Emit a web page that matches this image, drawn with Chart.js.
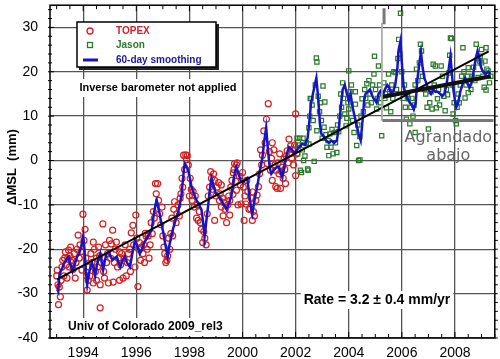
<!DOCTYPE html>
<html>
<head>
<meta charset="utf-8">
<script src="https://cdn.jsdelivr.net/npm/chart.js@4.4.0/dist/chart.umd.min.js"></script>
<style>
    html, body { margin: 0; padding: 0; background: #fff; }
    #chart { display: block; }
</style>
</head>
<body>
<canvas id="chart" width="500" height="359"></canvas>
<script>
// axis ticks
var xTickLabels = [1994, 1996, 1998, 2000, 2002, 2004, 2006, 2008];
var yTickLabels = [-40, -30, -20, -10, 0, 10, 20, 30];

// TOPEX cycles [year, mm]
var topexPoints = [
    [1993.00,-26],[1993.02,-24.7],[1993.05,-28],[1993.07,-32.5],[1993.10,-28.5],[1993.14,-30.7],[1993.17,-27],
    [1993.20,-24],[1993.23,-22.5],[1993.27,-26],[1993.30,-22],[1993.33,-20.6],[1993.36,-23.5],[1993.39,-26.5],
    [1993.42,-22],[1993.45,-20.2],[1993.48,-24],[1993.50,-21.5],[1993.53,-19.5],[1993.56,-23],[1993.59,-22.5],
    [1993.62,-24.5],[1993.66,-21],[1993.70,-26.5],[1993.73,-23],[1993.77,-20],[1993.81,-16.8],[1993.85,-22],
    [1993.88,-19],[1993.92,-20.5],[1993.95,-24.7],[1993.99,-12.1],[1994.03,-18],[1994.07,-15.5],[1994.10,-22],
    [1994.13,-26],[1994.15,-29.2],[1994.19,-27],[1994.22,-24],[1994.25,-26],[1994.29,-21],[1994.33,-23],
    [1994.38,-18.4],[1994.38,-27.6],[1994.42,-20],[1994.46,-25],[1994.50,-22],[1994.50,-27],[1994.54,-24],
    [1994.58,-19.5],[1994.62,-21.5],[1994.64,-28],[1994.64,-33.2],[1994.68,-23],[1994.74,-14.3],[1994.77,-25],
    [1994.80,-26.5],[1994.84,-19],[1994.88,-23],[1994.92,-21],[1994.95,-27.6],[1994.99,-18],[1995.03,-22],
    [1995.06,-18.8],[1995.11,-15.7],[1995.13,-27.4],[1995.17,-23],[1995.21,-20],[1995.25,-18.4],[1995.29,-24],
    [1995.33,-22],[1995.37,-20.6],[1995.37,-27],[1995.41,-23.5],[1995.45,-21],[1995.50,-26.5],[1995.54,-22],
    [1995.58,-19],[1995.62,-26],[1995.66,-23],[1995.70,-21],[1995.75,-20],[1995.78,-25],[1995.81,-16.3],
    [1995.87,-14.6],[1995.90,-19],[1995.95,-24],[1995.98,-12.3],[1996.02,-17.5],[1996.06,-28.4],[1996.09,-20],
    [1996.12,-18.5],[1996.16,-22.5],[1996.20,-19.5],[1996.25,-21],[1996.28,-19],[1996.31,-23],[1996.34,-16.4],
    [1996.37,-17],[1996.41,-20],[1996.45,-17],[1996.48,-22],[1996.52,-19],[1996.56,-14],[1996.60,-16.5],
    [1996.64,-11.5],[1996.68,-13],[1996.72,-5.2],[1996.75,-7.5],[1996.80,-5.2],[1996.84,-9],[1996.88,-12],
    [1996.92,-14.5],[1996.97,-10.5],[1997.00,-17],[1997.04,-19.5],[1997.07,-21],[1997.11,-23],[1997.15,-22.5],
    [1997.18,-21.5],[1997.22,-17.5],[1997.26,-20],[1997.30,-16.5],[1997.34,-13],[1997.37,-17],[1997.41,-11],
    [1997.44,-9.3],[1997.50,-14],[1997.53,-12],[1997.57,-10],[1997.62,-12.5],[1997.65,-8.5],[1997.68,-7.5],
    [1997.72,-4],[1997.75,-6],[1997.78,1.2],[1997.82,-2],[1997.86,1.3],[1997.89,0.2],[1997.92,1.1],
    [1997.96,-1.0],[1998.00,-8],[1998.03,-4],[1998.07,-6.5],[1998.10,-9],[1998.14,-7],[1998.18,-10.5],
    [1998.22,-8],[1998.27,-13],[1998.30,-10],[1998.33,-13.5],[1998.37,-11.5],[1998.41,-14],[1998.45,-15.5],
    [1998.50,-18.5],[1998.54,-16],[1998.58,-17.5],[1998.63,-19],[1998.67,-12],[1998.71,-8],[1998.76,-6],
    [1998.80,-2.5],[1998.83,-4],[1998.87,-6.5],[1998.91,-3],[1998.95,-4.5],[1998.95,-13.5],[1999.00,-8],
    [1999.04,-6],[1999.10,-5],[1999.13,-9],[1999.16,-7.5],[1999.20,-5.5],[1999.20,-10.5],[1999.24,-8.5],
    [1999.27,-12.5],[1999.31,-9.5],[1999.35,-11],[1999.40,-14],[1999.44,-10],[1999.48,-8],[1999.52,-12.3],
    [1999.52,-9],[1999.56,-6],[1999.60,-4.5],[1999.64,-7.6],[1999.65,-2.8],[1999.68,-2],[1999.70,-0.7],
    [1999.74,-4.7],[1999.77,-1],[1999.77,-6.7],[1999.80,-0.5],[1999.83,-10],[1999.88,-3.5],[1999.92,-5.5],
    [1999.95,-9.8],[2000.00,-2.7],[2000.03,-6],[2000.06,-13.5],[2000.09,-8],[2000.12,-9.8],[2000.16,-4.5],
    [2000.20,-7],[2000.24,-11],[2000.30,-10.9],[2000.33,-8.5],[2000.37,-13.5],[2000.37,-7.1],[2000.41,-11.5],
    [2000.45,-12.5],[2000.50,-9],[2000.55,-7.8],[2000.60,-5.9],[2000.64,-3],[2000.68,2.4],[2000.72,-1],
    [2000.75,1.2],[2000.80,6.7],[2000.85,4],[2000.90,9.3],[2000.93,-0.7],[2000.97,12.8],[2001.01,2],
    [2001.05,-2.2],[2001.09,0.5],[2001.12,4],[2001.12,-4.5],[2001.18,2.4],[2001.22,-1],[2001.25,-5.9],
    [2001.25,-2.2],[2001.31,-6.3],[2001.34,-0.5],[2001.37,-3],[2001.40,1.5],[2001.43,-6.3],[2001.47,-2.5],
    [2001.50,-1.5],[2001.53,-4],[2001.56,0.3],[2001.59,-2],[2001.62,-5.2],[2001.65,1],[2001.68,2.2],
    [2001.72,-0.5],[2001.75,4.8],[2001.78,1.5],[2001.81,3.3],[2001.85,0.5],[2001.88,2.5],[2001.92,-1],
    [2001.96,3.5],[2002.00,10.5],[2002.00,-3.4],[2002.04,1.5],[2002.08,4]
];

// Jason cycles [year, mm]
var jasonPoints = [
    [2002.05,5],[2002.08,1.5],[2002.12,3.5],[2002.15,5],[2002.18,-2.2],[2002.22,-2.7],[2002.25,2.4],[2002.28,5],
    [2002.30,0],[2002.35,1],[2002.40,4],[2002.45,-1.9],[2002.47,-2.2],[2002.50,3.7],[2002.50,7.4],[2002.53,10],
    [2002.55,14],[2002.58,13.9],[2002.62,12.5],[2002.66,9],[2002.70,-0.2],[2002.74,17],[2002.78,23.1],
    [2002.80,22.2],[2002.80,6.7],[2002.85,14.5],[2002.90,11],[2002.93,13],[2002.97,9],[2003.00,5],
    [2003.03,16.8],[2003.07,7.5],[2003.10,13.2],[2003.14,5.8],[2003.18,3],[2003.22,4.5],[2003.25,1.1],
    [2003.29,6],[2003.33,3],[2003.37,7],[2003.41,1.5],[2003.45,6.3],[2003.50,4],[2003.55,1.8],[2003.58,8],
    [2003.62,6.5],[2003.66,10],[2003.70,15],[2003.73,12],[2003.77,17.5],[2003.80,14],[2003.85,10.5],
    [2003.90,7.8],[2003.93,9.5],[2003.97,13],[2004.00,20.2],[2004.00,11.6],[2004.05,15.5],[2004.10,17],
    [2004.15,9],[2004.20,6.3],[2004.25,15.5],[2004.25,12.7],[2004.30,3.4],[2004.34,8],[2004.37,0],
    [2004.42,0.1],[2004.42,5.4],[2004.46,10],[2004.50,13.9],[2004.55,11],[2004.60,16],[2004.64,14],
    [2004.68,17.3],[2004.72,12.5],[2004.76,18],[2004.80,15],[2004.85,13],[2004.90,17],[2004.95,19.5],
    [2004.97,23.5],[2005.01,16],[2005.05,11.6],[2005.08,14],[2005.12,21.3],[2005.16,17],[2005.20,13],
    [2005.24,5.6],[2005.27,15],[2005.32,17.5],[2005.36,14],[2005.42,11.9],[2005.46,16],[2005.50,19.5],
    [2005.54,15.5],[2005.58,11],[2005.62,17],[2005.66,14],[2005.70,20],[2005.76,19.8],[2005.80,16],
    [2005.85,23],[2005.88,27.3],[2005.92,24],[2005.95,33.2],[2006.00,20],[2006.05,14],[2006.10,17],
    [2006.13,12],[2006.17,9.3],[2006.21,15],[2006.25,13.9],[2006.30,8.3],[2006.34,12],[2006.38,14],
    [2006.42,10],[2006.46,12.5],[2006.50,6.3],[2006.50,17],[2006.55,20.6],[2006.60,18],[2006.66,22],
    [2006.70,26.2],[2006.74,24.7],[2006.78,19],[2006.84,16],[2006.90,15],[2006.95,12],[2007.00,7.1],
    [2007.05,13],[2007.10,15.5],[2007.14,11.6],[2007.18,21.7],[2007.22,17],[2007.26,21.3],[2007.30,11.9],
    [2007.34,13.9],[2007.38,16],[2007.42,12.5],[2007.48,21.3],[2007.53,19],[2007.58,14.5],[2007.63,11.2],
    [2007.68,16],[2007.72,14.8],[2007.76,19.7],[2007.80,23.7],[2007.83,27.6],[2007.87,27.5],[2007.90,17],
    [2007.93,10.5],[2007.97,13],[2008.02,9],[2008.05,8.3],[2008.08,12],[2008.12,15],[2008.16,13],
    [2008.20,17],[2008.25,19],[2008.30,25.4],[2008.34,20],[2008.38,14.1],[2008.42,17],[2008.46,19],
    [2008.50,20.9],[2008.50,15.3],[2008.55,17.5],[2008.60,16],[2008.65,19],[2008.70,21],[2008.75,18],
    [2008.80,26.2],[2008.84,22],[2008.87,18.7],[2008.92,22.4],[2008.95,23.5],[2009.00,25],[2009.00,22],
    [2009.05,19],[2009.10,16.5],[2009.13,22.4],[2009.17,25.4],[2009.17,15.9],[2009.20,20.6],[2009.25,20.2],
    [2009.30,17.5],[2009.35,19]
];

// 60-day smoothing [year, mm]
var smoothPoints = [
    [1993.02,-29],[1993.06,-29.5],[1993.10,-26],[1993.15,-25],[1993.20,-24.5],[1993.25,-23.5],[1993.30,-23],
    [1993.35,-22.5],[1993.40,-22],[1993.45,-21.7],[1993.50,-23],[1993.55,-24],[1993.60,-25],[1993.65,-24],
    [1993.70,-23],[1993.77,-21.7],[1993.85,-21],[1993.92,-19.5],[1994.00,-17],[1994.05,-20],[1994.10,-25],
    [1994.15,-28],[1994.20,-26],[1994.27,-24],[1994.33,-23],[1994.40,-24.5],[1994.45,-26],[1994.52,-23.5],
    [1994.58,-22],[1994.64,-21],[1994.70,-23],[1994.75,-24.7],[1994.82,-22.5],[1994.88,-21],[1994.95,-20.6],
    [1995.02,-21.5],[1995.10,-22.4],[1995.18,-22],[1995.27,-21.7],[1995.33,-23],[1995.40,-24],[1995.48,-22.5],
    [1995.57,-21.7],[1995.65,-23],[1995.76,-24],[1995.85,-21],[1995.95,-18],[1996.05,-19.5],[1996.13,-21],
    [1996.22,-20],[1996.30,-18.5],[1996.40,-17.5],[1996.50,-16.5],[1996.58,-15.7],[1996.65,-12.5],
    [1996.72,-10],[1996.77,-9],[1996.82,-10.5],[1996.88,-12],[1996.95,-14.5],[1997.00,-15.7],[1997.08,-18.5],
    [1997.18,-21.7],[1997.25,-19],[1997.32,-17],[1997.37,-15.7],[1997.45,-14],[1997.56,-12],[1997.63,-10],
    [1997.70,-8],[1997.76,-4],[1997.82,-0.7],[1997.88,-1.2],[1997.95,-2.2],[1998.02,-4],[1998.08,-6],
    [1998.17,-7.5],[1998.27,-9],[1998.36,-10],[1998.45,-11],[1998.52,-14],[1998.57,-17.2],[1998.63,-14],
    [1998.70,-10.5],[1998.76,-7],[1998.83,-4],[1998.92,-6],[1999.00,-7.5],[1999.10,-8],[1999.20,-9],
    [1999.30,-10],[1999.40,-11],[1999.50,-9.5],[1999.58,-8],[1999.66,-4.5],[1999.72,-2.5],[1999.77,-1.5],
    [1999.85,-3],[1999.93,-4.5],[2000.00,-5],[2000.08,-4.5],[2000.18,-4],[2000.26,-8],[2000.33,-11],
    [2000.37,-12],[2000.45,-9],[2000.55,-6],[2000.65,-2.5],[2000.75,0.7],[2000.82,4.5],[2000.89,7.4],
    [2000.95,3],[2001.02,-1.5],[2001.08,-3],[2001.18,-2.2],[2001.28,-1.5],[2001.38,-1.5],[2001.45,-3],
    [2001.50,-3.8],[2001.58,-1],[2001.67,1.5],[2001.75,3],[2001.85,2.5],[2001.93,1.8],[2002.00,2],
    [2002.10,2.8],[2002.18,3.2],[2002.25,3.8],[2002.35,3.5],[2002.45,5],[2002.52,9],[2002.58,13],
    [2002.65,15],[2002.72,17],[2002.78,18.6],[2002.85,14],[2002.92,8],[2002.97,6],[2003.05,5.5],
    [2003.15,4.5],[2003.25,4],[2003.35,4.5],[2003.45,4],[2003.55,4.5],[2003.62,7],[2003.70,12],
    [2003.77,16],[2003.85,17],[2003.93,15],[2004.00,13.5],[2004.07,15],[2004.13,12.5],[2004.20,10.5],
    [2004.28,8.5],[2004.37,6],[2004.45,4.5],[2004.52,9],[2004.58,13.5],[2004.63,15],[2004.72,15.5],
    [2004.80,16],[2004.86,15],[2004.93,14],[2005.00,13.5],[2005.05,13],[2005.12,15],[2005.20,15.7],
    [2005.28,15],[2005.36,16],[2005.45,17],[2005.52,16.5],[2005.60,15],[2005.68,15.7],[2005.75,17],
    [2005.82,20],[2005.88,25],[2005.95,27],[2006.00,22],[2006.06,17],[2006.13,15],[2006.22,14],
    [2006.30,13],[2006.38,12.5],[2006.45,11.5],[2006.52,13],[2006.58,18],[2006.66,22],[2006.72,24.5],
    [2006.78,21],[2006.85,18.5],[2006.92,17.5],[2007.00,16],[2007.10,15],[2007.18,16],[2007.26,15.5],
    [2007.35,15.5],[2007.44,15],[2007.52,14.5],[2007.60,15],[2007.68,17],[2007.75,20],[2007.83,23.5],
    [2007.88,20],[2007.93,16.4],[2008.00,13.5],[2008.05,12],[2008.12,13],[2008.20,15.5],[2008.30,17.5],
    [2008.38,18.6],[2008.46,17.5],[2008.55,16.5],[2008.62,17.5],[2008.70,20],[2008.78,23],[2008.85,24.7],
    [2008.92,23],[2008.98,21],[2009.06,20],[2009.15,19.5],[2009.25,20],[2009.33,19.5]
];

// linear fits
var trendAll = [[1993.01, -26.8], [2009.27, 24.6]];
var trendRecent = [[2005.25, 14.3], [2009.35, 19.0]];

// gray "zoomed below" bracket
var bracketBar = [[2005.33, 34.3], [2005.33, 30.7]];
var bracketThin = [[2005.25, 31], [2005.25, 9]];
var bracketBase = [[2005.27, 9], [2009.45, 9]];

function toXY(list) {
    return list.map(function (p) { return { x: p[0], y: p[1] }; });
}

var FONT = "'Liberation Sans', Arial, Helvetica, sans-serif";

function lineSet(data, color, width) {
    return {
        data: toXY(data),
        showLine: true,
        borderColor: color,
        borderWidth: width,
        pointRadius: 0,
        fill: false
    };
}

var decorations = {
    id: 'decorations',
    afterDatasetsDraw: function (chart) {
        var ctx = chart.ctx;
        var a = chart.chartArea;
        var xs = chart.scales.x;
        var ys = chart.scales.y;
        ctx.save();

        // frame
        ctx.strokeStyle = '#000';
        ctx.lineWidth = 1.5;
        ctx.strokeRect(a.left, a.top, a.right - a.left, a.bottom - a.top);

        // minor ticks
        ctx.lineWidth = 1;
        ctx.beginPath();
        for (var yr = 1993; yr <= 2009.5; yr += 0.5) {
            var px = xs.getPixelForValue(yr);
            var len = (yr % 2 === 0) ? 6 : 4;
            ctx.moveTo(px, a.bottom); ctx.lineTo(px, a.bottom - len);
            ctx.moveTo(px, a.top); ctx.lineTo(px, a.top + len);
        }
        for (var v = -40; v <= 34; v += 2) {
            var py = ys.getPixelForValue(v);
            var l2 = (v % 10 === 0) ? 6 : 4;
            ctx.moveTo(a.left - 2, py); ctx.lineTo(a.left + l2 - 2, py);
            ctx.moveTo(a.right, py); ctx.lineTo(a.right + 3, py);
        }
        ctx.stroke();

        // legend box with shadow
        ctx.fillStyle = '#222';
        ctx.fillRect(79, 24, 140, 46);
        ctx.fillStyle = '#fff';
        ctx.fillRect(77, 22, 139, 45);
        ctx.strokeStyle = '#000';
        ctx.lineWidth = 1.5;
        ctx.strokeRect(77, 22, 139, 45);

        ctx.lineWidth = 1.3;
        ctx.strokeStyle = '#d42020';
        ctx.beginPath(); ctx.arc(90, 31, 3, 0, Math.PI * 2); ctx.stroke();
        ctx.strokeStyle = '#2a7a2a';
        ctx.strokeRect(87.5, 42.5, 5, 5);
        ctx.strokeStyle = '#1515c0';
        ctx.lineWidth = 3;
        ctx.beginPath(); ctx.moveTo(83, 60); ctx.lineTo(98, 60); ctx.stroke();

        ctx.font = 'bold 10px ' + FONT;
        ctx.textBaseline = 'middle';
        ctx.textAlign = 'left';
        ctx.fillStyle = '#cc2233'; ctx.fillText('TOPEX', 116, 31);
        ctx.fillStyle = '#2a7a2a'; ctx.fillText('Jason', 116, 45);
        ctx.fillStyle = '#1a1aa0'; ctx.fillText('60-day smoothing', 116, 60);

        // labels with white background
        function boxedText(text, font, x, y, align) {
            ctx.font = font;
            ctx.textAlign = align;
            var w = ctx.measureText(text).width;
            var left = align === 'center' ? x - w / 2 : x;
            ctx.fillStyle = '#fff';
            ctx.fillRect(left - 3, y - 9, w + 6, 18);
            ctx.fillStyle = '#000';
            ctx.fillText(text, x, y);
        }
        boxedText('Inverse barometer not applied', 'bold 11px ' + FONT, 158, 88, 'center');
        boxedText('Univ of Colorado 2009_rel3', 'bold 12px ' + FONT, 68, 327, 'left');
        boxedText('Rate = 3.2 \u00b1 0.4 mm/yr', 'bold 14px ' + FONT, 377, 300, 'center');

        // annotation
        ctx.font = "16px 'DejaVu Sans', sans-serif";
        ctx.textAlign = 'center';
        ctx.fillStyle = '#666';
        var ax = xs.getPixelForValue(2007.75);
        ctx.fillText('Agrandado', ax, ys.getPixelForValue(5));
        ctx.fillText('abajo', ax, ys.getPixelForValue(1));

        // y axis title
        ctx.translate(12, 167);
        ctx.rotate(-Math.PI / 2);
        ctx.font = 'bold 13px ' + FONT;
        ctx.fillStyle = '#000';
        ctx.fillText('\u0394MSL  (mm)', 0, 0);

        ctx.restore();
    }
};

function fixBox(size, prop) {
    return function (scale) {
        scale[prop] = size;
        scale.paddingTop = 0;
        scale.paddingBottom = 0;
        scale.paddingLeft = 0;
        scale.paddingRight = 0;
    };
}

var ctxEl = document.getElementById('chart');
var chart = new Chart(ctxEl, {
    type: 'scatter',
    data: {
        datasets: [
            lineSet(bracketBar, '#777', 3),
            lineSet(bracketBase, '#777', 3),
            lineSet(bracketThin, '#aaa', 1),
            lineSet(trendRecent, '#111', 4),
            lineSet(trendAll, '#000', 2),
            lineSet(smoothPoints, '#1515c8', 2.5),
            {
                data: toXY(jasonPoints),
                pointStyle: 'rect',
                pointRadius: 3,
                borderColor: '#2a7a2a',
                backgroundColor: 'rgba(0,0,0,0)',
                borderWidth: 1.2
            },
            {
                data: toXY(topexPoints),
                pointStyle: 'circle',
                pointRadius: 3,
                borderColor: '#d42020',
                backgroundColor: 'rgba(0,0,0,0)',
                borderWidth: 1.2
            }
        ]
    },
    options: {
        responsive: false,
        animation: false,
        layout: { padding: { top: 4, right: 4, left: 0, bottom: 0 } },
        plugins: { legend: { display: false }, tooltip: { enabled: false } },
        scales: {
            x: {
                type: 'linear',
                min: 1992.75,
                max: 2009.5,
                afterBuildTicks: function (scale) {
                    scale.ticks = xTickLabels.map(function (v) { return { value: v }; });
                },
                afterFit: fixBox(21, 'height'),
                grid: { color: '#555', lineWidth: 1.3, drawTicks: false },
                border: { display: false },
                ticks: {
                    padding: 7,
                    color: '#000',
                    font: { family: FONT, size: 14 },
                    callback: function (v) { return String(v); }
                }
            },
            y: {
                type: 'linear',
                min: -40,
                max: 35,
                afterBuildTicks: function (scale) {
                    scale.ticks = yTickLabels.map(function (v) { return { value: v }; });
                },
                afterFit: fixBox(50, 'width'),
                grid: { color: '#555', lineWidth: 1.3, drawTicks: false },
                border: { display: false },
                ticks: {
                    padding: 12,
                    color: '#000',
                    font: { family: FONT, size: 14 },
                    callback: function (v) { return String(v); }
                }
            }
        }
    },
    plugins: [decorations]
});
</script>
</body>
</html>
